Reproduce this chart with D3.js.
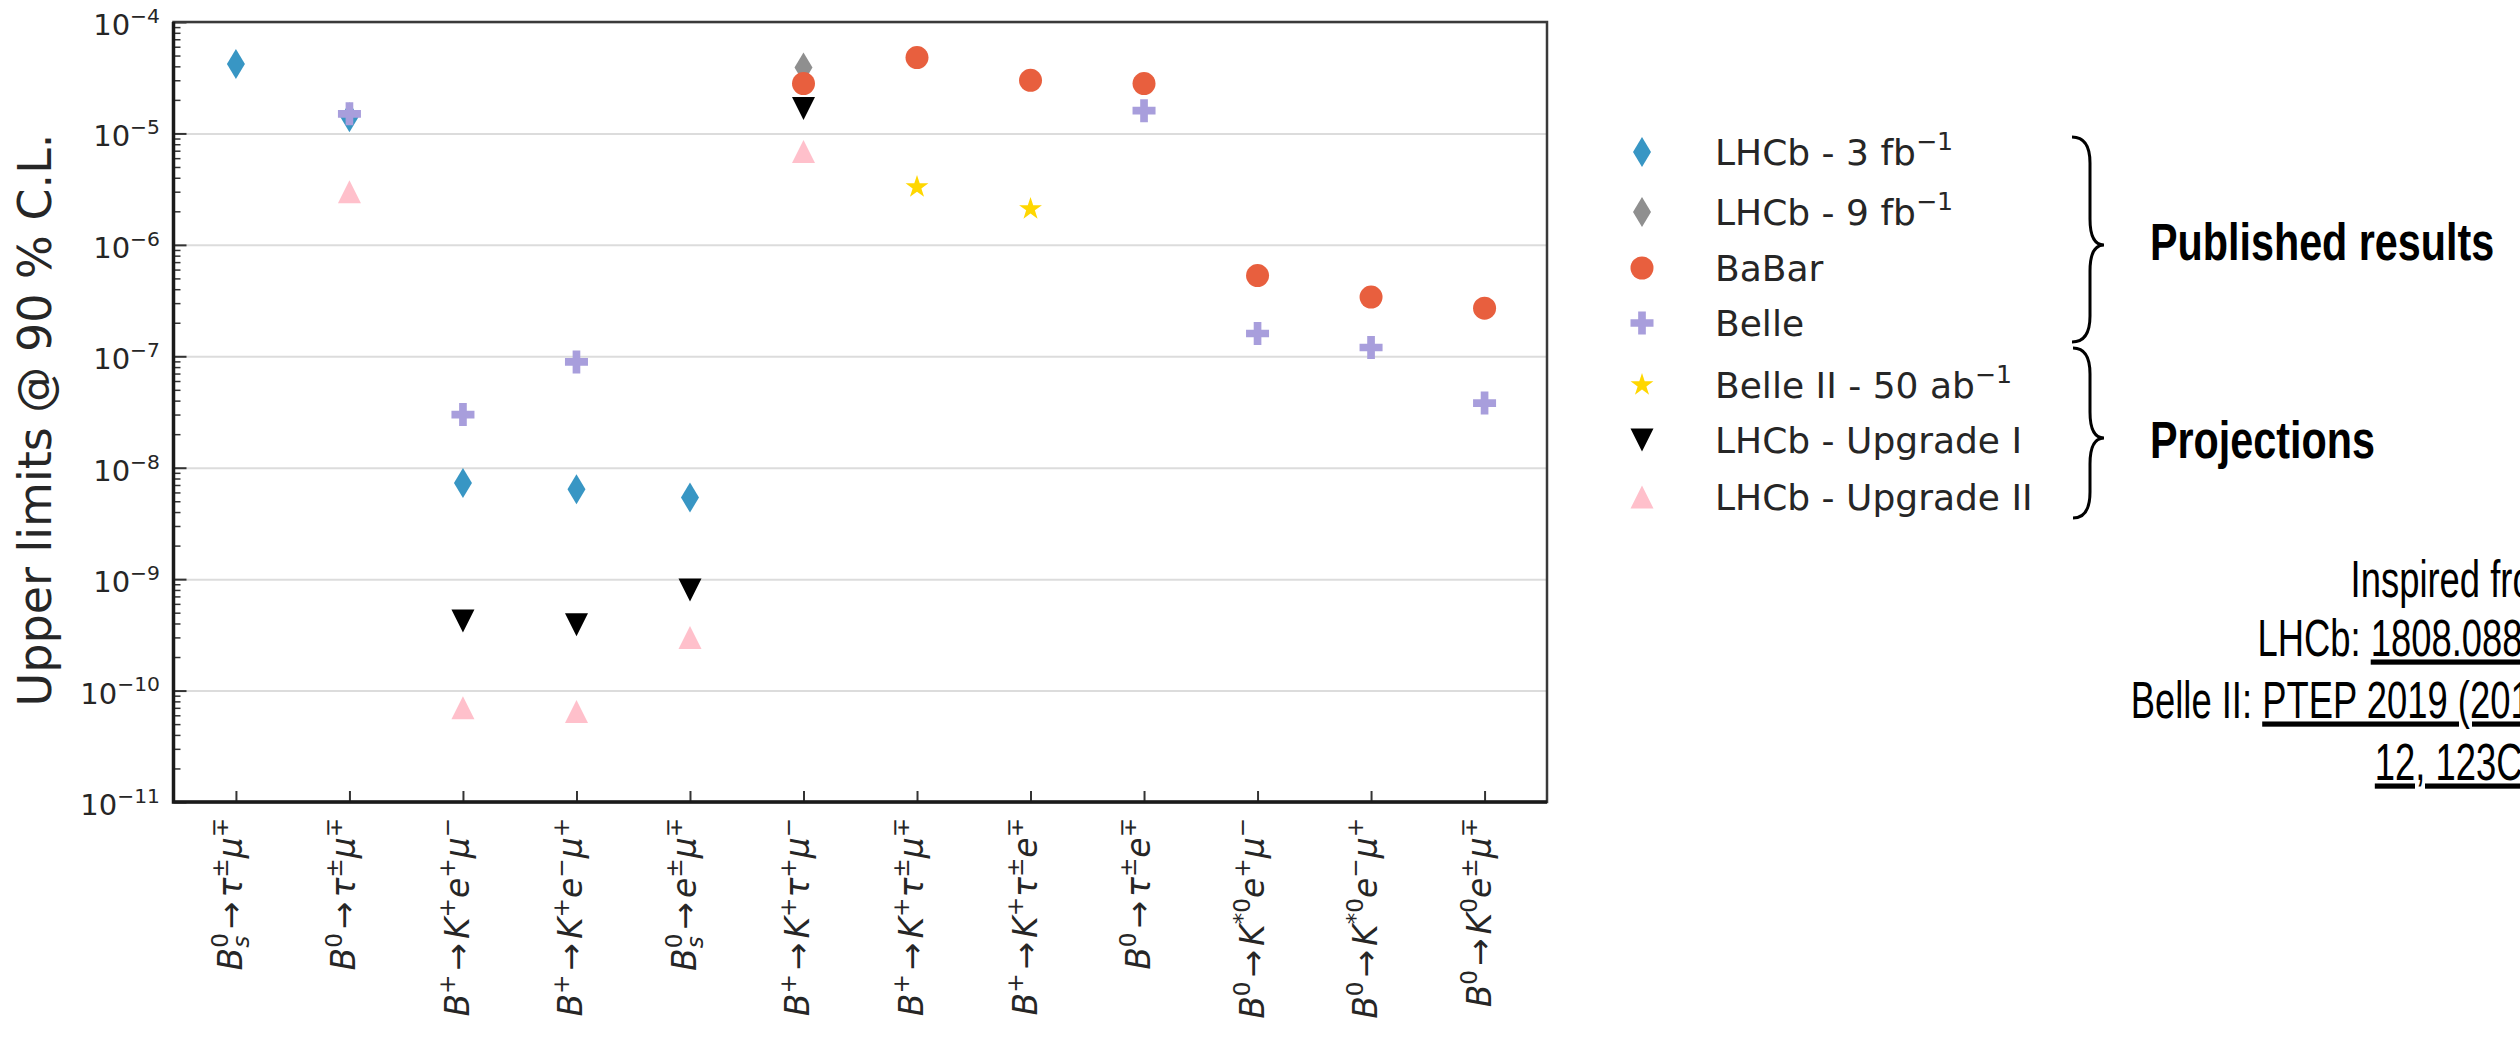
<!DOCTYPE html>
<html>
<head>
<meta charset="utf-8">
<script src="https://cdn.jsdelivr.net/npm/d3@7"></script>
<style>
  body { margin: 0; background: #fff; }
  svg { display: block; }
</style>
</head>
<body>
<script>
// decay channels, one per x position (tex-ish markup: ^ sup, _ sub)
var categories = [
    "B_s^0→τ^±μ^∓",
    "B^0→τ^±μ^∓",
    "B^+→K^+e^+μ^−",
    "B^+→K^+e^−μ^+",
    "B_s^0→e^±μ^∓",
    "B^+→K^+τ^+μ^−",
    "B^+→K^+τ^±μ^∓",
    "B^+→K^+τ^±e^∓",
    "B^0→τ^±e^∓",
    "B^0→K^{*0}e^+μ^−",
    "B^0→K^{*0}e^−μ^+",
    "B^0→K^0e^±μ^∓"
];

// upper limits @ 90% CL, null = no result
var lhcb3     = [4.2e-5, 1.4e-5, 7.3e-9, 6.4e-9, 5.4e-9, null, null, null, null, null, null, null];
var lhcb9     = [null, null, null, null, null, 3.9e-5, null, null, null, null, null, null];
var babar     = [null, null, null, null, null, 2.8e-5, 4.8e-5, 3.0e-5, 2.8e-5, 5.3e-7, 3.4e-7, 2.7e-7];
var belle     = [null, 1.5e-5, 3.0e-8, 8.9e-8, null, null, null, null, 1.6e-5, 1.6e-7, 1.2e-7, 3.8e-8];
var belle2    = [null, null, null, null, null, null, 3.3e-6, 2.1e-6, null, null, null, null];
var upgrade1  = [null, null, 4.2e-10, 3.9e-10, 8.0e-10, 1.67e-5, null, null, null, null, null, null];
var upgrade2  = [null, 3.0e-6, 7.0e-11, 6.5e-11, 3.0e-10, 6.9e-6, null, null, null, null, null, null];

var seriesNames = ["LHCb - 3 fb^{−1}", "LHCb - 9 fb^{−1}", "BaBar", "Belle",
                   "Belle II - 50 ab^{−1}", "LHCb - Upgrade I", "LHCb - Upgrade II"];

var yTickExponents = [-11, -10, -9, -8, -7, -6, -5, -4];

var refLines = [
    [["Inspired from", false]],
    [["LHCb: ", false], ["1808.08865", true]],
    [["Belle II: ", false], ["PTEP 2019 (2019)", true]],
    [["12, 123C01", true]]
];

var W = 2520, H = 1039;
var plot = { left: 173.5, right: 1547, top: 22, bottom: 802 };
var textColor = "#262626";
var mathFont = "DejaVu Sans";

var svg = d3.select("body").append("svg")
    .attr("width", W)
    .attr("height", H);
svg.append("rect").attr("width", W).attr("height", H).attr("fill", "#fff");

var x = d3.scaleLinear()
    .domain([-0.55, categories.length - 0.45])
    .range([plot.left, plot.right]);

var y = d3.scaleLog()
    .domain([1e-11, 1e-4])
    .range([plot.bottom, plot.top]);

var decades = yTickExponents.map(function(k) { return +("1e" + k); });
var minors = [];
yTickExponents.slice(0, -1).forEach(function(k) {
    for (var m = 2; m < 10; m++) minors.push(m * +("1e" + k));
});

// marker shapes (matplotlib-like)
function thinDiamond() { return "M0,-15L9,0L0,15L-9,0Z"; }
function triDown()    { return "M-11.5,-11.5L11.5,-11.5L0,11.5Z"; }
function triUp()      { return "M0,-11.5L11.5,11.5L-11.5,11.5Z"; }
function star() {
    var p = [], R = 12, r = R * 0.382;
    for (var k = 0; k < 10; k++) {
        var a = -Math.PI / 2 + k * Math.PI / 5, rr = k % 2 ? r : R;
        p.push([rr * Math.cos(a), rr * Math.sin(a)]);
    }
    return "M" + p.join("L") + "Z";
}
var circle = d3.symbol(d3.symbolCircle, Math.PI * 11.5 * 11.5);
var plus = d3.symbol(d3.symbolCross, 294);

var series = [
    { name: seriesNames[0], values: lhcb3,    color: "#3896c4", shape: thinDiamond },
    { name: seriesNames[1], values: lhcb9,    color: "#8f8f8f", shape: thinDiamond },
    { name: seriesNames[2], values: babar,    color: "#e85f3e", shape: circle },
    { name: seriesNames[3], values: belle,    color: "#a89edc", shape: plus },
    { name: seriesNames[4], values: belle2,   color: "#ffd700", shape: star },
    { name: seriesNames[5], values: upgrade1, color: "#000000", shape: triDown },
    { name: seriesNames[6], values: upgrade2, color: "#ffc0cb", shape: triUp }
];

// write "a^b_c" style markup into a text element as tspans
function mathText(sel, src, fs, italic) {
    var shift = 0, i = 0, lastScript = null, pendingDx = 0;
    while (i < src.length) {
        var c = src[i];
        if (c === "^" || c === "_") {
            var body;
            if (src[i + 1] === "{") {
                var j = src.indexOf("}", i);
                body = src.slice(i + 2, j);
                i = j + 1;
            } else {
                body = src[i + 1];
                i += 2;
            }
            var target = c === "^" ? -0.42 * fs : 0.2 * fs;
            var t = sel.append("tspan")
                .attr("font-size", 0.7 * fs)
                .attr("dy", target - shift)
                .attr("font-style", italic && /[A-Za-z]/.test(body) ? "italic" : "normal")
                .text(body);
            if (lastScript) t.attr("dx", -lastScript.node().getComputedTextLength());
            shift = target;
            lastScript = t;
        } else {
            i++;
            var isArrow = c === "→";
            var t2 = sel.append("tspan")
                .attr("font-size", fs)
                .attr("dy", -shift)
                .attr("font-style", italic && /[A-Za-zτμ]/.test(c) ? "italic" : "normal")
                .text(c);
            if (isArrow) t2.attr("dx", 0.12 * fs);
            else if (pendingDx) t2.attr("dx", pendingDx);
            pendingDx = isArrow ? 0.12 * fs : 0;
            shift = 0;
            lastScript = null;
        }
    }
}

// grid
svg.append("g")
    .attr("transform", "translate(" + plot.left + ",0)")
    .call(d3.axisLeft(y).tickValues(decades).tickSize(-(plot.right - plot.left)).tickFormat(""))
    .call(function(s) {
        s.select(".domain").remove();
        s.selectAll("line").attr("stroke", "#dcdcdc").attr("stroke-width", 2);
    });

// minor + major ticks (inside)
svg.append("g")
    .attr("transform", "translate(" + plot.left + ",0)")
    .call(d3.axisLeft(y).tickValues(minors).tickSize(-7).tickFormat(""))
    .call(function(s) {
        s.select(".domain").remove();
        s.selectAll("line").attr("stroke", "#333").attr("stroke-width", 1.5);
    });
svg.append("g")
    .attr("transform", "translate(" + plot.left + ",0)")
    .call(d3.axisLeft(y).tickValues(decades).tickSize(-13).tickFormat(""))
    .call(function(s) {
        s.select(".domain").remove();
        s.selectAll("line").attr("stroke", "#333").attr("stroke-width", 2);
    });
svg.append("g")
    .attr("transform", "translate(0," + plot.bottom + ")")
    .call(d3.axisBottom(x).tickValues(d3.range(categories.length)).tickSize(-11).tickFormat(""))
    .call(function(s) {
        s.select(".domain").remove();
        s.selectAll("line").attr("stroke", "#333").attr("stroke-width", 2);
    });

// frame
svg.append("rect")
    .attr("x", plot.left).attr("y", plot.top)
    .attr("width", plot.right - plot.left).attr("height", plot.bottom - plot.top)
    .attr("fill", "none").attr("stroke", "#3a3a3a").attr("stroke-width", 2.5);
svg.append("path")
    .attr("d", "M" + plot.left + "," + plot.top + "V" + plot.bottom + "H" + plot.right)
    .attr("fill", "none").attr("stroke", "#1a1a1a").attr("stroke-width", 3.5);

// y tick labels
yTickExponents.forEach(function(k, idx) {
    var t = svg.append("text")
        .attr("x", 160)
        .attr("y", y(decades[idx]) + 13)
        .attr("text-anchor", "end")
        .attr("font-family", mathFont)
        .attr("fill", textColor);
    mathText(t, "10^{" + String(k).replace("-", "−") + "}", 29, false);
});

// x tick labels (rotated)
categories.forEach(function(c, i) {
    var t = svg.append("text")
        .attr("transform", "translate(" + (x(i) + 6) + ",818) rotate(-90)")
        .attr("text-anchor", "end")
        .attr("font-family", mathFont)
        .attr("fill", textColor);
    mathText(t, c, 33, true);
});

// y label
svg.append("text")
    .attr("transform", "translate(51,420) rotate(-90)")
    .attr("text-anchor", "middle")
    .attr("font-family", mathFont)
    .attr("font-size", 46)
    .attr("fill", textColor)
    .text("Upper limits @ 90 % C.L.");

// markers
series.forEach(function(s) {
    svg.append("g").selectAll("path")
        .data(s.values.map(function(v, i) { return { i: i, v: v }; })
            .filter(function(d) { return d.v != null; }))
        .enter()
        .append("path")
        .attr("transform", function(d) { return "translate(" + x(d.i) + "," + y(d.v) + ")"; })
        .attr("d", s.shape)
        .attr("fill", s.color);
});

// legend
var legendRows = [152, 212, 268, 323, 385, 440, 497];
var legend = svg.append("g");
series.forEach(function(s, i) {
    legend.append("path")
        .attr("transform", "translate(1642," + legendRows[i] + ")")
        .attr("d", s.shape)
        .attr("fill", s.color);
    var t = legend.append("text")
        .attr("x", 1715)
        .attr("y", legendRows[i] + 13)
        .attr("font-family", mathFont)
        .attr("fill", textColor);
    mathText(t, s.name, 36, false);
});

// braces
function brace(xl, xm, xt, y0, yt, y1) {
    var r = 26;
    return "M" + xl + "," + y0 +
        "Q" + xm + "," + y0 + " " + xm + "," + (y0 + r) +
        "L" + xm + "," + (yt - r) +
        "Q" + xm + "," + yt + " " + xt + "," + yt +
        "Q" + xm + "," + yt + " " + xm + "," + (yt + r) +
        "L" + xm + "," + (y1 - r) +
        "Q" + xm + "," + y1 + " " + xl + "," + y1;
}
svg.append("path").attr("d", brace(2072, 2090, 2104, 137, 245, 342))
    .attr("fill", "none").attr("stroke", "#000").attr("stroke-width", 3);
svg.append("path").attr("d", brace(2073, 2090, 2104, 348, 438, 518))
    .attr("fill", "none").attr("stroke", "#000").attr("stroke-width", 3);

// condensed look: squeeze Liberation Sans horizontally
var sans = "'Liberation Sans', Arial, sans-serif";
[["Published results", 260], ["Projections", 458]].forEach(function(h) {
    svg.append("text")
        .attr("transform", "translate(2150," + h[1] + ") scale(0.81,1)")
        .attr("font-family", sans)
        .attr("font-weight", "bold")
        .attr("font-size", 51)
        .attr("fill", "#000")
        .text(h[0]);
});

// reference block, right aligned (runs off the page edge as in the original)
var refY = [597, 656, 718, 780];
refLines.forEach(function(line, i) {
    var t = svg.append("text")
        .attr("transform", "translate(2563," + refY[i] + ") scale(0.70,1)")
        .attr("text-anchor", "end")
        .attr("font-family", sans)
        .attr("font-size", 52)
        .attr("fill", "#000");
    line.forEach(function(seg) {
        t.append("tspan")
            .style("text-decoration", seg[1] ? "underline" : "none")
            .text(seg[0]);
    });
});
</script>
</body>
</html>
